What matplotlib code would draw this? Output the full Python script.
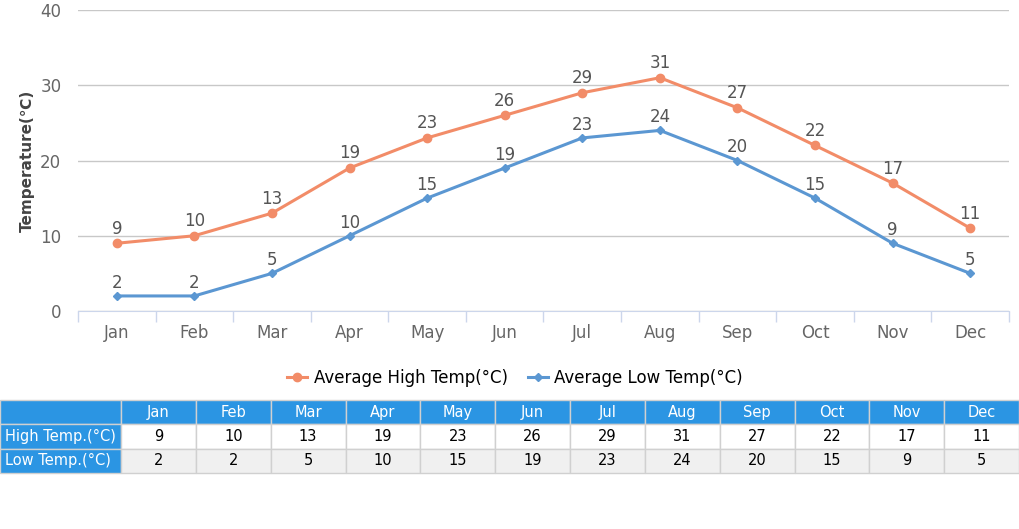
import numpy as np
import matplotlib.pyplot as plt
from matplotlib.lines import Line2D

months = ['Jan', 'Feb', 'Mar', 'Apr', 'May', 'Jun', 'Jul', 'Aug', 'Sep', 'Oct', 'Nov', 'Dec']
high_temp = [9, 10, 13, 19, 23, 26, 29, 31, 27, 22, 17, 11]
low_temp = [2, 2, 5, 10, 15, 19, 23, 24, 20, 15, 9, 5]
y_ticks = [0, 10, 20, 30, 40]

high_color = '#f28c68'
low_color = '#5b97d2'
head_blue = '#2b95e3'

W, H = 1020, 529
fig = plt.figure(figsize=(W / 100, H / 100), dpi=100)

# chart area
ax = fig.add_axes([78 / W, 1 - 311 / H, (1009 - 78) / W, (311 - 10) / H])
x = np.arange(len(months))
ax.plot(x, high_temp, color=high_color, lw=2.2, marker='o', ms=6, zorder=3)
ax.plot(x, low_temp, color=low_color, lw=2.2, marker='D', ms=4.5, zorder=3)
for xi, v in zip(x, high_temp):
    ax.annotate(str(v), (xi, v), xytext=(0, 4), textcoords='offset points',
                ha='center', va='bottom', fontsize=12, color='#555555')
for xi, v in zip(x, low_temp):
    ax.annotate(str(v), (xi, v), xytext=(0, 3), textcoords='offset points',
                ha='center', va='bottom', fontsize=12, color='#555555')

ax.set_xlim(-0.5, 11.5)
ax.set_ylim(0, 40)
ax.set_yticks(y_ticks)
ax.set_xticks(x)
ax.set_xticklabels(months)
ax.set_xticks(np.arange(-0.5, 12, 1), minor=True)
ax.tick_params(axis='x', which='major', length=0, pad=9, labelsize=12, labelcolor='#666666')
ax.tick_params(axis='x', which='minor', length=8, color='#ccd6eb', width=1)
ax.tick_params(axis='y', length=0, pad=12, labelsize=12, labelcolor='#666666')
ax.grid(axis='y', color='#c8c8c8', lw=1)
ax.set_axisbelow(True)
for s in ['top', 'right', 'left']:
    ax.spines[s].set_visible(False)
ax.spines['bottom'].set_color('#ccd6eb')
ax.set_ylabel('Temperature(℃)', fontsize=11, fontweight='bold', color='#444444', labelpad=4)

# legend
handles = [Line2D([], [], color=high_color, lw=2.2, marker='o', ms=6),
           Line2D([], [], color=low_color, lw=2.2, marker='D', ms=4.5)]
fig.legend(handles, ['Average High Temp(°C)', 'Average Low Temp(°C)'],
           loc='center', bbox_to_anchor=(515 / W, 1 - 378 / H), ncol=2,
           frameon=False, fontsize=12, handlelength=1.2, handletextpad=0.4,
           columnspacing=1.2)

# table
tax = fig.add_axes([0, 1 - 473 / H, 1020 / W, 73 / H])
tax.set_axis_off()
cell_text = [[''] + months,
             ['High Temp.(°C)'] + [str(v) for v in high_temp],
             ['Low Temp.(°C)'] + [str(v) for v in low_temp]]
first_w = 121
col_w = (1019 - first_w) / 12
widths = [first_w / 1020] + [col_w / 1020] * 12
tbl = tax.table(cellText=cell_text, colWidths=widths, cellLoc='center', bbox=[0, 0, 1019 / 1020, 1])
tbl.auto_set_font_size(False)
for (r, c), cell in tbl.get_celld().items():
    cell.set_edgecolor('#d0d0d0')
    cell.set_linewidth(1)
    cell.get_text().set_fontsize(10.5)
    if r == 0 or c == 0:
        cell.set_facecolor(head_blue)
        cell.get_text().set_color('white')
    else:
        cell.set_facecolor('white' if r == 1 else '#f0f0f0')
        cell.get_text().set_color('black')
    if c == 0:
        cell.get_text().set_ha('left')
        cell.PAD = 0.04

fig.savefig('out.png', dpi=100)
